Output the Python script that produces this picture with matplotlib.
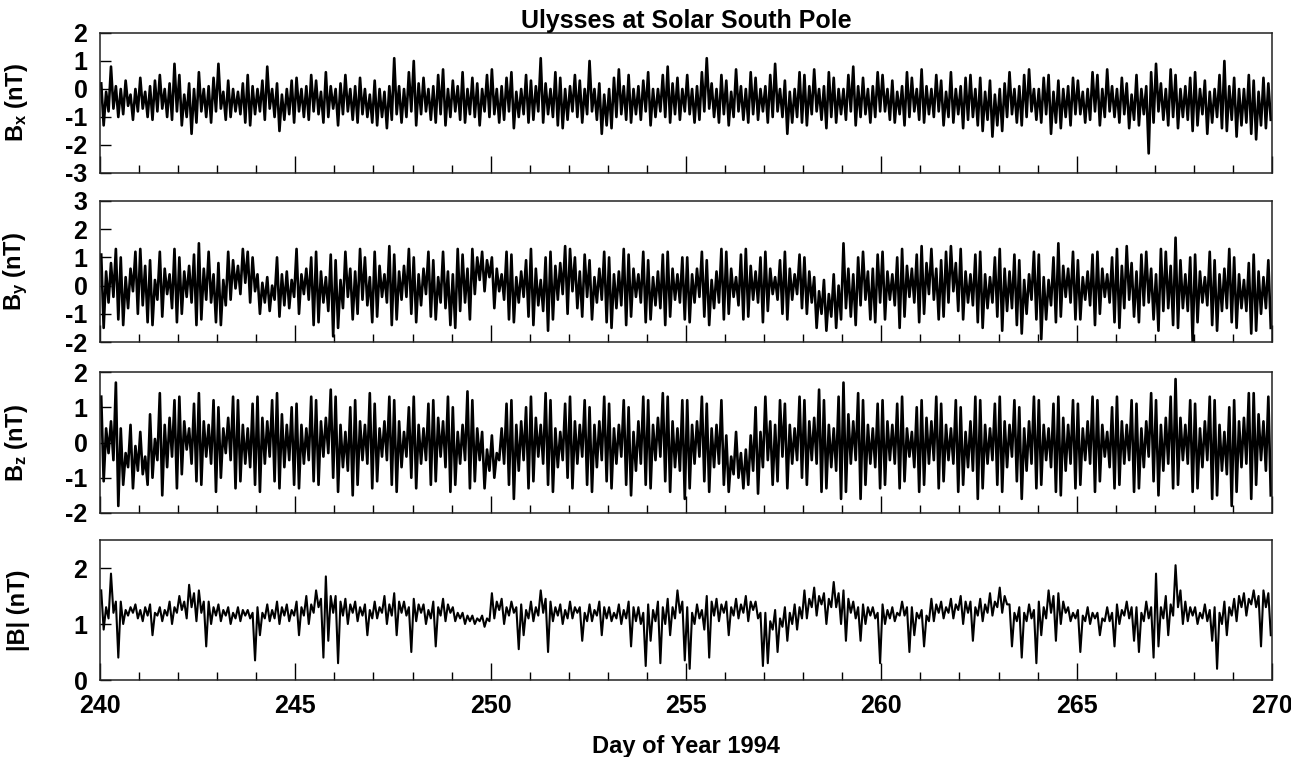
import numpy as np
import matplotlib.pyplot as plt
from matplotlib.ticker import MultipleLocator

plt.rcParams['font.family'] = 'Liberation Sans'
plt.rcParams['font.weight'] = 'bold'
plt.rcParams['mathtext.fontset'] = 'custom'
plt.rcParams['mathtext.rm'] = 'Liberation Sans:bold'
plt.rcParams['mathtext.it'] = 'Liberation Sans:bold'
plt.rcParams['mathtext.bf'] = 'Liberation Sans:bold'

# 3-hour bins from day 240 to 270: max and min of each bin
day_start = 240
bin_width = 0.125

bx_hi = [0.2, -0.1, 0.8, 0.1, 0.0, 0.3, -0.2, 0.0, 0.4, -0.1, 0.1, 0.3, 0.5, 0.0, 0.2, 0.9, 0.5, -0.2, 0.2, 0.0,
         0.6, 0.0, 0.1, 0.4, 0.9, -0.1, 0.3, 0.0, -0.1, 0.2, 0.5, 0.1, 0.0, 0.3, 0.8, 0.0, 0.2, -0.2, 0.0, 0.3,
         0.4, 0.0, 0.1, 0.5, 0.3, -0.1, 0.6, 0.1, 0.0, 0.2, 0.5, 0.0, 0.1, 0.4, 0.0, -0.2, 0.3, 0.0, -0.1, 0.1,
         1.1, 0.1, 0.0, 0.6, 1.0, 0.2, 0.4, 0.0, 0.1, 0.5, 0.7, 0.0, 0.3, 0.1, 0.6, 0.0, 0.4, 0.2, 0.0, 0.5,
         0.7, 0.0, 0.1, 0.4, 0.6, -0.1, 0.0, 0.5, 0.3, 0.1, 1.1, 0.2, 0.0, 0.6, 0.4, 0.0, 0.1, 0.5, 0.3, 0.0,
         1.0, 0.0, 0.2, -0.2, 0.0, 0.4, 0.7, 0.1, 0.5, 0.0, 0.1, 0.3, 0.6, 0.0, 0.0, 0.5, 0.8, 0.2, 0.4, 0.0,
         0.5, 0.0, 0.1, 0.6, 1.1, 0.2, 0.0, 0.5, 0.3, -0.1, 0.7, 0.1, 0.0, 0.6, 0.4, 0.0, 0.1, 0.5, 0.9, 0.0,
         0.3, -0.1, 0.0, 0.6, 0.5, 0.1, 0.7, 0.0, 0.1, 0.6, 0.4, 0.0, 0.0, 0.5, 0.8, 0.1, 0.4, 0.0, 0.1, 0.6,
         0.5, 0.0, 0.3, -0.1, 0.1, 0.6, 0.4, 0.0, 0.7, 0.1, 0.0, 0.5, 0.3, -0.1, 0.6, 0.0, 0.1, 0.4, 0.5, 0.0,
         0.4, -0.1, 0.3, -0.2, 0.0, 0.2, 0.6, 0.0, 0.1, 0.5, 0.7, 0.0, 0.0, 0.4, 0.5, -0.1, 0.3, 0.0, 0.1, 0.4,
         0.3, -0.1, 0.0, 0.6, 0.5, 0.0, 0.7, 0.1, 0.0, 0.4, 0.2, -0.2, 0.5, 0.0, 0.1, 0.6, 0.9, 0.2, 0.0, 0.7,
         0.5, 0.0, 0.1, 0.4, 0.6, 0.0, 0.3, -0.1, 0.0, 0.5, 1.0, 0.1, 0.4, 0.0, 0.0, 0.5, 0.3, -0.1, 0.4, 0.2]
bx_lo = [-1.3, -0.8, -0.7, -1.0, -0.9, -0.6, -1.1, -0.8, -0.7, -1.0, -1.1, -0.8, -0.7, -1.0, -1.1, -0.8, -1.3, -1.0, -1.6, -1.2,
         -0.8, -1.0, -1.2, -0.8, -0.7, -1.1, -1.0, -0.8, -0.9, -1.2, -1.3, -0.9, -0.8, -1.1, -0.7, -1.0, -1.5, -1.1, -0.9, -1.2,
         -0.8, -1.0, -1.1, -0.8, -0.9, -1.2, -1.0, -0.7, -1.3, -0.9, -0.8, -1.1, -1.2, -0.9, -1.0, -1.2, -1.3, -1.0, -1.4, -1.1,
         -0.9, -1.2, -1.0, -0.8, -1.3, -0.9, -0.8, -1.1, -1.2, -0.9, -1.3, -1.0, -0.8, -1.1, -1.2, -0.9, -1.0, -1.3, -0.8, -1.0,
         -0.9, -1.2, -1.1, -0.8, -1.4, -1.0, -0.9, -1.2, -1.1, -0.8, -1.2, -0.9, -1.0, -1.3, -1.4, -1.1, -0.8, -1.0, -1.2, -0.9,
         -0.8, -1.1, -1.6, -1.3, -1.4, -1.0, -0.9, -1.1, -1.2, -0.9, -1.1, -0.8, -1.3, -1.0, -0.8, -1.0, -1.2, -0.9, -1.1, -0.8,
         -0.9, -1.2, -1.1, -0.8, -0.7, -1.0, -1.2, -0.9, -1.3, -1.0, -0.8, -1.1, -1.2, -0.9, -1.1, -0.8, -1.2, -1.0, -0.8, -1.0,
         -1.6, -1.2, -1.0, -1.2, -1.3, -0.9, -0.8, -1.1, -1.4, -1.0, -1.2, -0.9, -1.1, -0.8, -1.3, -1.0, -0.9, -1.2, -1.0, -0.8,
         -0.8, -1.1, -1.2, -0.9, -1.3, -1.0, -0.8, -1.1, -1.2, -0.9, -1.0, -0.8, -1.3, -1.0, -1.2, -0.9, -1.4, -1.1, -1.0, -1.3,
         -1.5, -1.1, -1.7, -1.3, -1.5, -1.0, -0.9, -1.2, -1.3, -1.0, -0.8, -1.1, -1.2, -0.9, -1.6, -1.2, -1.4, -1.0, -1.3, -0.9,
         -0.9, -1.2, -1.1, -0.8, -1.3, -1.0, -0.8, -1.0, -1.2, -0.9, -1.4, -1.1, -1.3, -0.9, -2.3, -1.2, -0.8, -1.1, -1.3, -1.0,
         -1.4, -1.0, -1.1, -1.5, -1.3, -0.9, -1.6, -1.2, -1.0, -1.4, -1.5, -1.1, -1.7, -1.3, -1.2, -1.6, -1.8, -1.3, -1.4, -1.1]

by_hi = [1.1, 0.5, 0.8, 1.3, 1.0, 0.3, 0.6, 1.2, 1.3, 0.7, 0.9, 0.2, 1.2, 0.6, 0.4, 1.3, 1.0, 0.5, 0.7, 1.1,
         1.5, 0.6, 1.2, 0.4, 0.8, 0.2, 1.2, 0.9, 0.7, 1.3, 1.2, 1.0, 0.4, 0.1, 0.3, 0.0, 1.0, 0.4, 0.5, 0.2,
         1.3, 0.4, 0.6, 1.0, 1.2, 0.5, 0.3, 1.1, 0.9, 0.2, 1.2, 0.6, 0.5, 1.3, 1.0, 0.3, 1.2, 0.7, 0.4, 1.4,
         1.1, 0.5, 0.7, 1.3, 1.0, 0.4, 0.6, 1.2, 0.9, 0.3, 1.2, 0.5, 0.4, 1.3, 1.1, 0.6, 1.3, 1.0, 1.2, 0.9,
         1.0, 0.6, 0.4, 1.2, 1.1, 0.3, 0.5, 0.9, 1.3, 0.6, 0.2, 1.0, 1.2, 0.7, 0.8, 1.4, 1.3, 1.0, 0.5, 1.1,
         0.9, 0.3, 0.6, 1.2, 1.0, 0.4, 0.5, 1.3, 1.1, 0.6, 0.4, 1.2, 0.9, 0.3, 0.5, 1.1, 1.2, 0.6, 0.4, 1.0,
         1.0, 0.4, 0.6, 1.2, 0.9, 0.2, 0.5, 1.3, 1.2, 0.6, 0.3, 1.1, 1.3, 0.7, 0.5, 1.0, 1.2, 0.6, 0.3, 0.9,
         1.2, 0.6, 0.4, 1.1, 1.0, 0.5, 0.3, -0.2, 0.2, -0.3, 0.4, 0.0, 1.5, 0.6, 0.4, 1.0, 1.2, 0.5, 0.6, 1.1,
         1.2, 0.5, 0.4, 1.0, 1.3, 0.7, 0.6, 1.1, 1.4, 0.8, 1.3, 0.6, 0.9, 1.2, 1.4, 0.8, 1.3, 0.5, 0.4, 1.1,
         1.2, 0.4, 0.3, 1.0, 1.3, 0.6, 0.5, 1.1, 0.9, 0.2, 0.4, 1.2, 1.1, 0.3, 0.2, 1.0, 1.5, 0.7, 0.6, 1.2,
         0.9, 0.3, 0.5, 1.1, 1.2, 0.6, 0.4, 1.0, 1.3, 0.7, 1.4, 0.8, 0.5, 1.1, 1.2, 0.6, 0.4, 1.3, 1.2, 0.7,
         1.7, 0.9, 0.4, 1.0, 1.1, 0.5, 0.3, 1.2, 0.9, 0.4, 0.6, 1.3, 1.0, 0.4, 0.2, 0.8, 1.1, 0.5, 0.3, 0.9]
by_lo = [-1.5, -0.6, -0.4, -1.2, -1.4, -0.8, -0.2, -1.0, -0.7, -1.3, -1.4, -0.5, -1.1, -0.3, -0.8, -1.3, -1.0, -0.4, -0.6, -1.4,
         -1.2, -0.5, -0.6, -1.3, -1.4, -0.7, -0.5, -0.1, -0.3, 0.1, -0.6, -0.2, -1.0, -0.6, -0.9, -0.5, -1.1, -0.7, -0.8, -0.4,
         -1.0, -0.3, -0.5, -1.4, -1.3, -0.6, -0.9, -1.8, -1.5, -0.8, -0.4, -1.2, -1.0, -0.5, -0.7, -1.3, -1.1, -0.4, -0.6, -1.4,
         -1.2, -0.5, -0.4, -1.0, -1.3, -0.7, -0.3, -1.1, -1.2, -0.6, -0.8, -1.4, -1.5, -0.9, -0.6, -1.2, -0.3, 0.2, -0.2, 0.3,
         -0.8, -0.2, -0.5, -1.2, -1.3, -0.6, -0.4, -1.1, -1.4, -0.7, -0.9, -1.6, -1.2, -0.5, -0.3, -1.0, -0.2, -0.8, -1.1, -0.4,
         -1.2, -0.6, -0.5, -1.3, -1.5, -0.8, -0.7, -1.4, -1.1, -0.4, -0.6, -1.3, -1.2, -0.7, -0.8, -1.4, -1.1, -0.5, -0.6, -1.2,
         -1.3, -0.6, -0.4, -1.1, -1.4, -0.8, -0.6, -1.2, -1.0, -0.4, -0.7, -1.2, -1.1, -0.5, -0.6, -1.3, -0.9, -0.3, -0.5, -1.0,
         -1.2, -0.5, -0.3, -0.8, -1.0, -0.6, -1.5, -1.0, -1.6, -1.1, -1.5, -1.2, -0.8, -1.1, -1.4, -0.7, -0.5, -1.2, -1.3, -0.6,
         -1.2, -0.5, -0.7, -1.5, -1.1, -0.4, -0.6, -1.3, -1.0, -0.3, -0.5, -1.2, -1.1, -0.6, -0.2, -0.9, -1.2, -0.6, -0.7, -1.3,
         -1.5, -0.8, -0.6, -1.1, -1.6, -0.9, -0.8, -1.4, -1.7, -1.0, -0.5, -1.2, -1.9, -1.2, -0.7, -1.3, -1.1, -0.4, -0.6, -1.2,
         -1.2, -0.5, -0.7, -1.4, -1.0, -0.4, -0.6, -1.3, -1.5, -0.8, -0.5, -1.1, -1.3, -0.7, -0.6, -1.2, -1.6, -0.9, -0.8, -1.4,
         -1.5, -0.8, -0.9, -2.0, -1.3, -0.6, -0.7, -1.4, -1.6, -0.9, -0.8, -1.3, -1.5, -0.8, -0.9, -1.7, -1.6, -1.0, -0.8, -1.5]

bz_hi = [1.3, 0.4, 0.6, 1.7, 0.4, -0.3, 0.5, -0.1, 0.3, -0.4, 0.8, 0.1, 1.4, 0.5, 0.7, 1.2, 1.3, 0.6, 0.4, 1.1,
         1.4, 0.6, 0.5, 1.2, 1.0, 0.4, 0.7, 1.3, 1.2, 0.5, 0.4, 1.1, 1.3, 0.7, 0.6, 1.2, 1.4, 0.8, 0.5, 1.0,
         1.1, 0.5, 0.4, 1.3, 1.2, 0.6, 0.7, 1.5, 1.3, 0.5, 0.3, 1.0, 1.2, 0.6, 0.5, 1.4, 1.1, 0.4, 0.6, 1.3,
         1.2, 0.6, 0.3, 1.0, 1.3, 0.5, 0.4, 1.1, 1.2, 0.7, 0.6, 1.3, 1.0, 0.3, 0.5, 1.45, 1.2, 0.4, 0.3, -0.2,
         0.2, -0.3, 0.4, 1.1, 1.2, 0.5, 0.6, 1.0, 1.3, 0.7, 0.5, 1.4, 1.2, 0.4, 0.3, 1.1, 1.3, 0.6, 0.5, 1.2,
         1.0, 0.5, 0.6, 1.3, 1.1, 0.4, 0.5, 1.2, 1.0, 0.3, 0.6, 1.3, 1.2, 0.5, 0.7, 1.4, 1.3, 0.6, 0.4, 1.2,
         1.2, 0.5, 0.6, 1.3, 1.1, 0.4, 0.5, 1.2, 0.2, -0.4, 0.3, -0.3, -0.2, 0.2, 1.0, 0.3, 1.3, 0.6, 0.5, 1.2,
         1.1, 0.5, 0.4, 1.3, 1.2, 0.6, 0.7, 1.5, 1.2, 0.5, 0.4, 1.3, 1.7, 0.8, 0.6, 1.4, 1.2, 0.5, 0.4, 1.1,
         1.2, 0.6, 0.5, 1.1, 1.3, 0.4, 0.3, 1.0, 1.2, 0.7, 0.6, 1.3, 1.1, 0.5, 0.4, 1.2, 1.0, 0.3, 0.6, 1.3,
         1.2, 0.5, 0.4, 1.1, 1.3, 0.6, 0.5, 1.2, 1.0, 0.4, 0.6, 1.3, 1.2, 0.5, 0.4, 1.1, 1.3, 0.7, 0.5, 1.2,
         1.1, 0.4, 0.6, 1.3, 1.2, 0.5, 0.3, 1.0, 1.3, 0.6, 0.5, 1.2, 1.1, 0.4, 0.6, 1.4, 1.2, 0.5, 0.7, 1.3,
         1.8, 0.7, 0.5, 1.2, 1.1, 0.4, 0.6, 1.3, 1.2, 0.5, 0.3, 1.0, 1.2, 0.6, 0.7, 1.4, 1.4, 0.8, 0.6, 1.3]
bz_lo = [-1.1, -0.3, -0.5, -1.8, -1.2, -0.7, -1.3, -0.8, -0.9, -1.2, -1.0, -0.5, -1.5, -0.7, -0.4, -1.3, -0.9, -0.2, -0.6, -1.1,
         -1.2, -0.4, -0.6, -1.4, -1.0, -0.3, -0.5, -1.3, -1.1, -0.6, -0.7, -1.2, -1.4, -0.6, -0.4, -1.1, -1.3, -0.7, -0.5, -1.2,
         -1.3, -0.6, -0.5, -1.1, -1.2, -0.4, -0.3, -1.0, -1.4, -0.7, -0.8, -1.5, -1.2, -0.5, -0.6, -1.3, -1.1, -0.4, -0.5, -1.2,
         -1.4, -0.7, -0.4, -1.0, -1.3, -0.6, -0.5, -1.2, -1.1, -0.4, -0.7, -1.4, -1.2, -0.6, -0.5, -1.3, -1.1, -0.5, -1.3, -0.8,
         -1.0, -0.5, -0.6, -1.2, -1.6, -0.8, -0.5, -1.3, -1.1, -0.4, -0.6, -1.2, -1.4, -0.7, -0.5, -1.0, -1.3, -0.6, -0.4, -1.2,
         -1.4, -0.7, -0.5, -1.1, -1.3, -0.6, -0.4, -1.2, -1.5, -0.8, -0.6, -1.2, -1.3, -0.5, -0.4, -1.1, -1.4, -0.7, -0.8, -1.6,
         -1.3, -0.6, -0.4, -1.1, -1.4, -0.7, -0.6, -1.2, -1.4, -0.9, -1.0, -1.3, -1.2, -0.8, -1.45, -0.7, -0.5, -1.2, -1.1, -0.4,
         -1.3, -0.6, -0.5, -1.0, -1.2, -0.5, -0.6, -1.4, -1.3, -0.7, -0.8, -1.6, -1.4, -0.6, -0.5, -1.6, -1.2, -0.6, -0.7, -1.3,
         -1.2, -0.5, -0.6, -1.3, -1.1, -0.4, -0.7, -1.4, -1.2, -0.6, -0.5, -1.3, -1.1, -0.5, -0.6, -1.4, -1.2, -0.7, -0.8, -1.6,
         -1.3, -0.6, -0.5, -1.2, -1.4, -0.7, -0.4, -1.1, -1.6, -0.8, -0.6, -1.3, -1.2, -0.5, -0.7, -1.4, -1.5, -0.8, -0.6, -1.3,
         -1.2, -0.5, -0.6, -1.4, -1.1, -0.4, -0.7, -1.3, -1.2, -0.6, -0.5, -1.4, -1.3, -0.7, -0.4, -1.1, -1.5, -0.8, -0.6, -1.3,
         -1.2, -0.5, -0.6, -1.4, -1.3, -0.7, -0.5, -1.6, -1.5, -0.8, -0.9, -1.8, -1.4, -0.7, -0.6, -1.6, -1.2, -0.5, -0.8, -1.5]

bt_hi = [1.6, 1.3, 1.9, 1.4, 1.4, 1.25, 1.3, 1.35, 1.25, 1.3, 1.35, 1.2, 1.3, 1.25, 1.4, 1.3, 1.5, 1.4, 1.7, 1.55,
         1.6, 1.4, 1.4, 1.3, 1.35, 1.25, 1.3, 1.2, 1.3, 1.25, 1.25, 1.2, 1.3, 1.2, 1.35, 1.25, 1.4, 1.3, 1.35, 1.25,
         1.4, 1.3, 1.5, 1.35, 1.6, 1.45, 1.85, 1.5, 1.5, 1.4, 1.45, 1.35, 1.4, 1.3, 1.35, 1.25, 1.4, 1.3, 1.5, 1.35,
         1.55, 1.4, 1.4, 1.3, 1.45, 1.35, 1.35, 1.25, 1.4, 1.3, 1.45, 1.35, 1.3, 1.2, 1.2, 1.15, 1.15, 1.1, 1.15, 1.1,
         1.55, 1.4, 1.45, 1.3, 1.4, 1.3, 1.35, 1.25, 1.4, 1.3, 1.6, 1.45, 1.4, 1.3, 1.35, 1.25, 1.4, 1.3, 1.3, 1.2,
         1.35, 1.25, 1.4, 1.3, 1.3, 1.2, 1.35, 1.25, 1.4, 1.3, 1.3, 1.2, 1.35, 1.25, 1.4, 1.3, 1.45, 1.3, 1.6, 1.4,
         1.3, 1.2, 1.35, 1.25, 1.5, 1.4, 1.45, 1.35, 1.4, 1.3, 1.45, 1.35, 1.5, 1.4, 1.4, 1.2, 1.2, 1.05, 1.25, 1.1,
         1.3, 1.2, 1.35, 1.3, 1.6, 1.45, 1.65, 1.5, 1.55, 1.45, 1.75, 1.55, 1.6, 1.45, 1.4, 1.3, 1.35, 1.3, 1.3, 1.2,
         1.35, 1.25, 1.3, 1.2, 1.4, 1.3, 1.3, 1.2, 1.25, 1.15, 1.45, 1.35, 1.4, 1.3, 1.45, 1.35, 1.5, 1.4, 1.4, 1.3,
         1.45, 1.35, 1.55, 1.4, 1.65, 1.5, 1.35, 1.2, 1.3, 1.2, 1.35, 1.25, 1.4, 1.3, 1.6, 1.5, 1.55, 1.4, 1.3, 1.2,
         1.25, 1.15, 1.3, 1.2, 1.2, 1.1, 1.3, 1.2, 1.35, 1.25, 1.4, 1.3, 1.3, 1.2, 1.4, 1.3, 1.9, 1.3, 1.5, 1.35,
         2.05, 1.6, 1.4, 1.3, 1.3, 1.2, 1.35, 1.25, 1.3, 1.2, 1.4, 1.3, 1.45, 1.5, 1.55, 1.45, 1.6, 1.5, 1.6, 1.55]
bt_lo = [0.9, 1.1, 1.2, 0.4, 1.0, 1.15, 1.2, 1.1, 1.05, 1.15, 0.8, 1.15, 1.05, 1.15, 1.0, 1.2, 1.25, 1.1, 1.3, 1.05,
         1.2, 0.6, 1.0, 1.15, 1.05, 1.15, 1.0, 1.1, 1.05, 1.15, 1.1, 0.35, 0.8, 1.1, 1.05, 1.1, 1.0, 1.15, 1.05, 1.15,
         0.8, 1.15, 1.0, 1.2, 1.3, 0.4, 0.7, 1.2, 0.3, 1.15, 1.0, 1.2, 1.05, 1.15, 0.8, 1.1, 1.1, 1.2, 1.0, 1.15,
         0.8, 1.2, 1.15, 0.5, 1.05, 1.2, 1.0, 1.1, 0.6, 1.15, 1.05, 1.2, 1.05, 1.1, 1.0, 1.05, 1.0, 1.05, 0.95, 1.05,
         1.1, 1.25, 1.0, 1.15, 1.2, 0.55, 0.8, 1.1, 1.05, 1.15, 1.2, 0.5, 1.05, 1.15, 1.0, 1.1, 1.1, 1.2, 0.7, 1.05,
         1.05, 1.15, 0.8, 1.1, 1.05, 1.1, 1.0, 1.1, 0.6, 1.05, 1.0, 0.25, 0.7, 1.05, 0.3, 1.0, 0.8, 1.1, 1.2, 0.35,
         0.2, 1.0, 1.1, 0.9, 0.4, 1.15, 1.05, 1.2, 0.8, 1.15, 1.1, 1.2, 1.05, 1.25, 1.1, 0.25, 0.3, 0.9, 0.5, 0.95,
         0.7, 1.0, 0.9, 1.1, 1.1, 1.3, 1.15, 1.35, 1.0, 1.3, 1.3, 1.0, 0.7, 1.2, 1.1, 0.7, 1.0, 1.15, 1.1, 0.3,
         1.0, 1.1, 1.05, 1.15, 1.15, 0.5, 0.8, 1.1, 0.6, 1.05, 1.05, 1.2, 1.1, 1.2, 1.1, 1.25, 1.0, 1.2, 0.7, 1.15,
         1.05, 1.2, 1.15, 1.3, 1.2, 1.35, 0.6, 1.05, 0.4, 1.05, 1.1, 0.3, 0.8, 1.1, 1.2, 0.7, 1.0, 1.2, 1.05, 1.1,
         0.5, 1.05, 1.0, 1.1, 0.8, 1.05, 1.05, 0.6, 1.0, 1.15, 1.1, 0.7, 0.5, 1.05, 1.1, 0.4, 0.6, 1.1, 0.8, 1.15,
         1.3, 1.0, 1.05, 1.15, 1.0, 1.1, 1.05, 0.7, 0.2, 1.0, 0.8, 1.15, 1.05, 1.3, 1.15, 1.35, 1.3, 0.6, 1.3, 0.8]


def min_max_trace(hi, lo):
    # each bin drawn as its max then its min, like a decimated dense time series
    n = len(hi)
    t0 = day_start + np.arange(n) * bin_width
    x = np.empty(2 * n)
    y = np.empty(2 * n)
    x[0::2] = t0 + bin_width * 0.25
    x[1::2] = t0 + bin_width * 0.75
    y[0::2] = hi
    y[1::2] = lo
    return x, y


W, H = 1291, 757
fig = plt.figure(figsize=(W / 100, H / 100), dpi=100)

left_px, right_px = 100, 1272
panels = [
    (bx_hi, bx_lo, (-3, 2), [-3, -2, -1, 0, 1, 2], r'$B_x$ (nT)', 33, 173, 1.9),
    (by_hi, by_lo, (-2, 3), [-2, -1, 0, 1, 2, 3], r'$B_y$ (nT)', 201, 342, 1.9),
    (bz_hi, bz_lo, (-2, 2), [-2, -1, 0, 1, 2], r'$B_z$ (nT)', 372, 513, 1.9),
    (bt_hi, bt_lo, (0, 2.5), [0, 1, 2], '|B| (nT)', 540, 680, 1.5),
]

for i, (hi, lo, ylim, yticks, label, top, bottom, lw) in enumerate(panels):
    ax = fig.add_axes([left_px / W, 1 - bottom / H, (right_px - left_px) / W, (bottom - top) / H])
    x, y = min_max_trace(hi, lo)
    ax.plot(x, y, color='black', lw=lw)
    ax.set_xlim(240, 270)
    ax.set_ylim(*ylim)
    ax.set_yticks(yticks)
    ax.set_yticklabels([str(v) for v in yticks])
    ax.xaxis.set_major_locator(MultipleLocator(5))
    ax.xaxis.set_minor_locator(MultipleLocator(1))
    ax.tick_params(axis='x', which='major', direction='in', length=12, width=1, labelsize=18, pad=10)
    ax.tick_params(axis='x', which='minor', direction='in', length=6, width=1)
    ax.tick_params(axis='y', direction='in', length=8, width=1, labelsize=18, pad=9)
    for s in ax.spines.values():
        s.set_linewidth(1.1)
        s.set_color('#222222')
    ax.set_ylabel(label, fontsize=17, fontweight='bold')
    ax.yaxis.set_label_coords(-0.06, 0.5)
    if i < 3:
        ax.tick_params(axis='x', labelbottom=False)
    else:
        ax.set_xlabel('Day of Year 1994', fontsize=17, fontweight='bold', labelpad=12)
    if i == 0:
        ax.set_title('Ulysses at Solar South Pole', fontsize=18, fontweight='bold', pad=3)

fig.savefig('out.png', dpi=100)
